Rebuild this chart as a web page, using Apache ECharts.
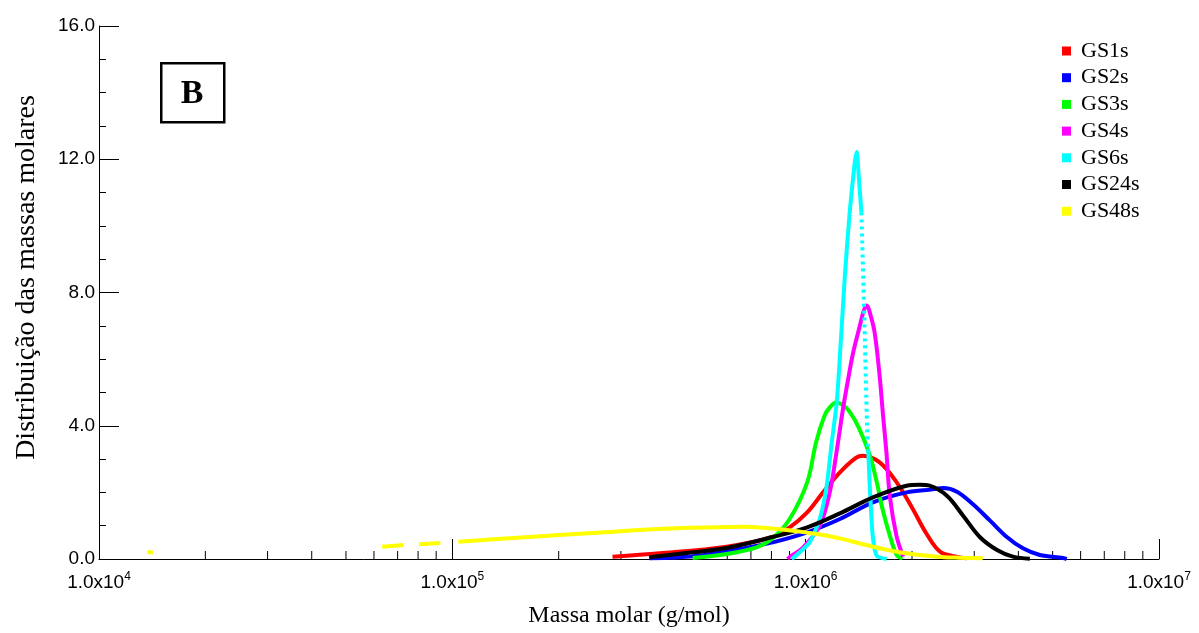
<!DOCTYPE html>
<html><head><meta charset="utf-8">
<script src="https://cdn.jsdelivr.net/npm/echarts@6/dist/echarts.min.js"></script>
<style>html,body{margin:0;padding:0;background:#fff}#c{width:1199px;height:633px}</style>
</head><body><div id="c"></div>
<script>
// ---- data (molar mass in g/mol, distribution value) ----
const seriesNames = ['GS1s', 'GS2s', 'GS3s', 'GS4s', 'GS6s', 'GS24s', 'GS48s'];
const seriesColors = ['#ff0000', '#0000ff', '#00ff00', '#ff00ff', '#00ffff', '#000000', '#ffff00'];

const gs1sMass = [2.84e5, 3.86e5, 5.97e5, 8.06e5, 9.01e5, 1.01e6, 1.12e6, 1.25e6, 1.39e6, 1.45e6, 1.62e6, 1.81e6, 2.01e6, 2.20e6, 2.40e6, 2.68e6, 2.86e6];
const gs1sValue = [0.07, 0.17, 0.37, 0.66, 0.95, 1.4, 2.0, 2.6, 3.04, 3.1, 2.9, 2.3, 1.5, 0.75, 0.22, 0.06, 0.02];

const gs2sMass = [3.61e5, 5.01e5, 6.5e5, 8.06e5, 1.01e6, 1.25e6, 1.55e6, 1.93e6, 2.29e6, 2.45e6, 2.68e6, 2.97e6, 3.32e6, 3.71e6, 4.12e6, 4.60e6, 5.35e6, 5.48e6];
const gs2sValue = [0.02, 0.1, 0.3, 0.5, 0.8, 1.2, 1.7, 2.0, 2.09, 2.13, 2.02, 1.65, 1.16, 0.66, 0.32, 0.12, 0.03, 0.0];

const gs3sMass = [4.79e5, 5.97e5, 7.26e5, 8.06e5, 9.01e5, 1.01e6, 1.07e6, 1.13e6, 1.17e6, 1.22e6, 1.275e6, 1.33e6, 1.42e6, 1.52e6, 1.59e6, 1.65e6, 1.73e6, 1.81e6, 1.88e6];
const gs3sValue = [0.03, 0.15, 0.35, 0.62, 1.2, 2.3, 3.5, 4.29, 4.55, 4.70, 4.62, 4.43, 3.9, 3.1, 2.3, 1.5, 0.71, 0.12, 0.02];

const gs4sMass = [8.89e5, 9.01e5, 9.81e5, 1.096e6, 1.17e6, 1.222e6, 1.275e6, 1.318e6, 1.361e6, 1.42e6, 1.46e6, 1.49e6, 1.528e6, 1.569e6, 1.62e6, 1.656e6, 1.693e6, 1.73e6, 1.806e6, 1.887e6];
const gs4sValue = [0.0, 0.06, 0.33, 1.0, 2.0, 3.19, 4.5, 5.38, 6.17, 6.96, 7.45, 7.61, 7.3, 6.77, 5.48, 4.3, 3.19, 1.9, 0.71, 0.07];

const gs6sMass = [9.13e5, 9.43e5, 1.026e6, 1.096e6, 1.147e6, 1.185e6, 1.224e6, 1.248e6, 1.290e6, 1.332e6, 1.377e6, 1.395e6, 1.413e6, 1.438e6, 1.465e6, 1.492e6, 1.503e6, 1.518e6, 1.548e6, 1.589e6, 1.696e6];
const gs6sValue = [0.0, 0.12, 0.5, 1.2, 2.2, 3.49, 4.68, 5.97, 8.45, 10.4, 11.9, 12.22, 11.5, 10.4, 7.3, 4.0, 3.3, 2.2, 0.7, 0.1, 0.0];
const gs6sDottedFrom = 13, gs6sDottedTo = 16; // index range drawn dotted in the original

const gs24sMass = [3.61e5, 4.79e5, 5.97e5, 8.06e5, 1.01e6, 1.25e6, 1.55e6, 1.93e6, 2.10e6, 2.24e6, 2.51e6, 2.79e6, 3.11e6, 3.48e6, 3.86e6, 4.31e6];
const gs24sValue = [0.05, 0.2, 0.33, 0.66, 0.95, 1.37, 1.85, 2.2, 2.23, 2.2, 1.9, 1.3, 0.66, 0.27, 0.07, 0.01];

const gs48sMass = [1.37e4, 1.42e4, 3.0e4, 6.33e4, 7.26e4, 7.6e4, 8.06e4, 9.25e4, 9.8e4, 1.04e5, 1.65e5, 2.56e5, 3.94e5, 5.97e5, 6.63e5, 7.76e5, 9.19e5, 1.01e6, 1.12e6, 1.25e6, 1.55e6, 1.93e6, 2.35e6, 2.73e6, 3.17e6];
const gs48sValue = [0.2, 0.2, null, 0.37, 0.42, null, 0.44, 0.48, null, 0.52, 0.66, 0.79, 0.91, 0.96, 0.97, 0.93, 0.85, 0.79, 0.72, 0.62, 0.37, 0.17, 0.07, 0.04, 0.02];

const xMinorTicks = [2e4, 3e4, 4e4, 5e4, 6e4, 7e4, 8e4, 9e4, 2e5, 3e5, 4e5, 5e5, 6e5, 7e5, 8e5, 9e5, 2e6, 3e6, 4e6, 5e6, 6e6, 7e6, 8e6, 9e6];

// ---- chart ----
const pair = (m, v) => m.map((x, i) => [x, v[i]]);
const LW = 4;
function lineSeries(name, color, data, extra) {
  return Object.assign({
    name, type: 'line', data, color, showSymbol: false, symbol: 'none',
    smooth: 0.35, lineStyle: { width: LW, color }, z: 3
  }, extra || {});
}
const gs6sSolid = gs6sMass.map((m, i) => [m, (i > gs6sDottedFrom && i < gs6sDottedTo) ? null : gs6sValue[i]]);
const gs6sDotted = gs6sMass.slice(gs6sDottedFrom, gs6sDottedTo + 1).map((m, i) => [m, gs6sValue[gs6sDottedFrom + i]]);

const chart = echarts.init(document.getElementById('c'), null, { renderer: 'canvas' });
chart.setOption({
  animation: false,
  backgroundColor: '#fff',
  grid: { left: 99, right: 40, top: 26, bottom: 69, containLabel: false },
  legend: {
    orient: 'vertical', left: 1057, top: 35, icon: 'rect',
    itemWidth: 9, itemHeight: 9, itemGap: 4.7,
    textStyle: { fontFamily: 'Liberation Serif', fontSize: 22, color: '#000', lineHeight: 20, padding: [0, 0, 0, 5] },
    data: seriesNames
  },
  xAxis: {
    type: 'log', logBase: 10, min: 1e4, max: 1e7,
    name: 'Massa molar (g/mol)', nameLocation: 'middle', nameGap: 45,
    nameTextStyle: { fontFamily: 'Liberation Serif', fontSize: 24, color: '#000' },
    axisLine: { lineStyle: { color: '#000', width: 1 } },
    axisTick: { inside: true, length: 20, lineStyle: { color: '#000', width: 1 } },
    minorTick: { show: false },
    splitLine: { show: false },
    axisLabel: {
      margin: 12, color: '#000',
      formatter: v => '{b|1.0x10}{s|' + Math.round(Math.log10(v)) + '}',
      rich: {
        b: { fontFamily: 'Liberation Sans', fontSize: 19, color: '#000', lineHeight: 24 },
        s: { fontFamily: 'Liberation Sans', fontSize: 12, color: '#000', lineHeight: 24, verticalAlign: 'top' }
      }
    }
  },
  yAxis: {
    type: 'value', min: 0, max: 16, interval: 4,
    name: 'Distribuição das massas molares', nameLocation: 'middle', nameGap: 58,
    nameTextStyle: { fontFamily: 'Liberation Serif', fontSize: 28, color: '#000', padding: [0, 0, 0, 30] },
    axisLine: { show: true, lineStyle: { color: '#000', width: 1 } },
    axisTick: { inside: true, length: 20, lineStyle: { color: '#000', width: 1 } },
    minorTick: { show: true, splitNumber: 4, length: 7, lineStyle: { color: '#000', width: 1 } },
    splitLine: { show: false },
    axisLabel: { margin: 4, fontFamily: 'Liberation Sans', fontSize: 19, color: '#000', formatter: v => v.toFixed(1) }
  },
  graphic: [
    { type: 'rect', left: 160, top: 62, shape: { width: 63, height: 59 }, style: { fill: '#fff', stroke: '#000', lineWidth: 2.5 }, z: 10 },
    { type: 'text', x: 192, y: 94, style: { text: 'B', fontFamily: 'Liberation Serif', fontSize: 34, fontWeight: 'bold', fill: '#000', align: 'center', verticalAlign: 'middle', textAlign: 'center', textVerticalAlign: 'middle' }, z: 11 }
  ],
  series: [
    {
      type: 'custom', name: 'xMinorTicks', silent: true, z: 1, clip: false,
      data: xMinorTicks.map(v => [v, 0]),
      renderItem: (params, api) => {
        const p = api.coord([api.value(0), 0]);
        return { type: 'line', shape: { x1: p[0], y1: p[1], x2: p[0], y2: p[1] - 8 }, style: { stroke: '#000', lineWidth: 1 } };
      }
    },
    lineSeries('GS1s', seriesColors[0], pair(gs1sMass, gs1sValue)),
    lineSeries('GS2s', seriesColors[1], pair(gs2sMass, gs2sValue)),
    lineSeries('GS3s', seriesColors[2], pair(gs3sMass, gs3sValue)),
    lineSeries('GS4s', seriesColors[3], pair(gs4sMass, gs4sValue)),
    lineSeries('GS6s', seriesColors[4], gs6sSolid, { smooth: 0.2 }),
    lineSeries('GS6s', seriesColors[4], gs6sDotted, { smooth: 0.2, lineStyle: { width: LW, color: seriesColors[4], type: [3, 4] } }),
    lineSeries('GS24s', seriesColors[5], pair(gs24sMass, gs24sValue)),
    lineSeries('GS48s', seriesColors[6], pair(gs48sMass, gs48sValue))
  ]
});
</script>
</body></html>
